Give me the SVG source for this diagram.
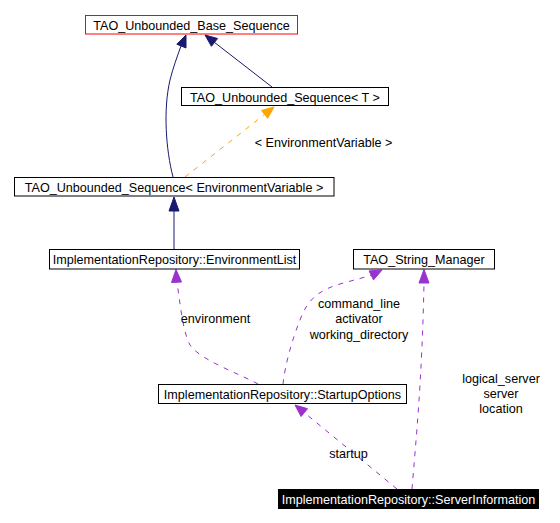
<svg xmlns="http://www.w3.org/2000/svg" width="560" height="523" viewBox="0 0 560 523">
<defs>
<style>
text{font-family:"Liberation Sans",Arial,Helvetica,sans-serif;font-size:12.6px;fill:#000;text-anchor:middle}
.box{fill:#fff;stroke:#000;stroke-width:1}
.red{fill:#fff;stroke:#ff0000;stroke-width:1}
.inh{fill:none;stroke:#191970;stroke-width:1}
.inhh{fill:#191970;stroke:#191970}
.use{fill:none;stroke:#9a32cd;stroke-width:1;stroke-dasharray:5,6}
.useh{fill:#9a32cd;stroke:#9a32cd}
.tpl{fill:none;stroke:#ffa500;stroke-width:1;stroke-dasharray:5,6}
.tplh{fill:#ffa500;stroke:#ffa500}
</style>
</defs>
<rect width="560" height="523" fill="#fff"/>
<g id="connectors">
<path class="inh" d="M173,177 C166,150 163,110 170,80 C173,68 177,57 181,46"/>
<polygon class="inhh" points="186,35 176.8,44.2 186,48"/>
<path class="inh" d="M272,87 L214.5,42.4"/>
<polygon class="inhh" points="205,35 217.6,38.5 211.4,46.3"/>
<path class="tpl" d="M185,177 L264.6,114.4"/>
<polygon class="tplh" points="274,107 267.7,118.3 261.5,110.5"/>
<text x="323.5" y="147">&lt; EnvironmentVariable &gt;</text>
<path class="inh" d="M174,249 L174,211"/>
<polygon class="inhh" points="174,197 169,211 179,211"/>
<path class="use" d="M258,384 C240,374 200,360 190,345 C182,330 180,300 177,283"/>
<polygon class="useh" points="176,269.5 171.5,282.5 181.5,282"/>
<text x="215.5" y="323">environment</text>
<path class="use" d="M283,384 C285,365 292,340 300,320 C308,298 320,290 340,284 L371,275.4"/>
<polygon class="useh" points="382,270 373.5,279.9 369.1,270.9"/>
<text x="359" y="308">command_line</text>
<text x="359" y="323">activator</text>
<text x="359" y="339">working_directory</text>
<path class="use" d="M412,489 C416,440 422,380 424,283"/>
<polygon class="useh" points="424,269.5 419,283 429,283"/>
<text x="501" y="383">logical_server</text>
<text x="501" y="398">server</text>
<text x="501" y="413">location</text>
<path class="use" d="M397,489 L304.3,412.6"/>
<polygon class="useh" points="295,405 307.5,408.7 301.1,416.5"/>
<text x="348.5" y="458">startup</text>
</g>
<g id="node_base">
<rect class="red" x="85.5" y="15.5" width="212" height="18.5"/>
<text x="191.5" y="29.5">TAO_Unbounded_Base_Sequence</text>
</g>
<g id="node_seqT">
<rect class="box" x="181.5" y="87.5" width="207" height="18"/>
<text x="285" y="101.5">TAO_Unbounded_Sequence&lt; T &gt;</text>
</g>
<g id="node_seqEnv">
<rect class="box" x="14.5" y="177.5" width="319.5" height="18.5"/>
<text x="174" y="191.5">TAO_Unbounded_Sequence&lt; EnvironmentVariable &gt;</text>
</g>
<g id="node_envlist">
<rect class="box" x="49.5" y="249.5" width="250" height="19.5"/>
<text x="174.5" y="263.5">ImplementationRepository::EnvironmentList</text>
</g>
<g id="node_strmgr">
<rect class="box" x="353.5" y="249.5" width="141" height="19.5"/>
<text x="424" y="263.5">TAO_String_Manager</text>
</g>
<g id="node_startup">
<rect class="box" x="158.5" y="384.5" width="248" height="19"/>
<text x="282.5" y="398.5">ImplementationRepository::StartupOptions</text>
</g>
<g id="node_serverinfo">
<rect x="278" y="489" width="261" height="20" fill="#000"/>
<text x="408.5" y="503.5" style="fill:#fff">ImplementationRepository::ServerInformation</text>
</g>
</svg>
